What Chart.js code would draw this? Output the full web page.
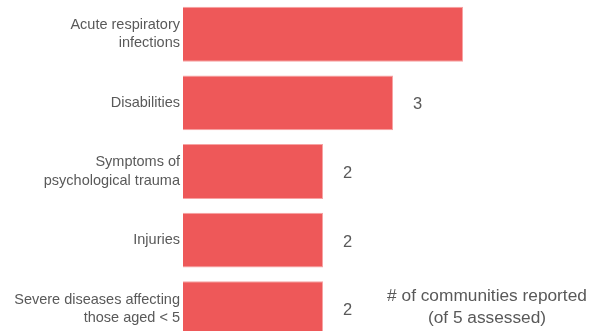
<!DOCTYPE html>
<html>
<head>
<meta charset="utf-8">
<script src="https://cdn.jsdelivr.net/npm/chart.js@4.4.1/dist/chart.umd.min.js"></script>
<style>
  html, body { margin: 0; padding: 0; background: #fff; overflow: hidden; }
  #wrap { position: relative; width: 590px; height: 343px; }
</style>
</head>
<body>
<div id="wrap"><canvas id="chart"></canvas></div>
<script>
// categories and values
const categories = [
  ['Acute respiratory', 'infections'],
  'Disabilities',
  ['Symptoms of', 'psychological trauma'],
  'Injuries',
  ['Severe diseases affecting', 'those aged < 5']
];
const communities = [4, 3, 2, 2, 2];
// the top bar has no number printed next to it
const shownLabels = [null, '3', '2', '2', '2'];
const noteLines = ['# of communities reported', '(of 5 assessed)'];

const textColor = '#595959';

// writes the count to the right of each bar
const valueLabels = {
  id: 'valueLabels',
  afterDatasetsDraw(chart) {
    const ctx = chart.ctx;
    const meta = chart.getDatasetMeta(0);
    ctx.save();
    ctx.font = '16.5px "Liberation Sans", Arial, sans-serif';
    ctx.fillStyle = textColor;
    ctx.textAlign = 'left';
    ctx.textBaseline = 'middle';
    meta.data.forEach((bar, i) => {
      if (shownLabels[i] == null) return;
      ctx.fillText(shownLabels[i], bar.x + 20, bar.y + 2);
    });
    ctx.restore();
  }
};

// the note in the bottom right corner
const note = {
  id: 'note',
  afterDraw(chart) {
    const ctx = chart.ctx;
    ctx.save();
    ctx.font = '17.3px "Liberation Sans", Arial, sans-serif';
    ctx.fillStyle = textColor;
    ctx.textAlign = 'center';
    ctx.textBaseline = 'middle';
    noteLines.forEach((line, i) => {
      ctx.fillText(line, 487, 296 + i * 22);
    });
    ctx.restore();
  }
};

new Chart(document.getElementById('chart'), {
  type: 'bar',
  data: {
    labels: categories,
    datasets: [{
      data: communities,
      backgroundColor: '#EE5859',
      borderColor: '#F7A3A3',
      borderWidth: 1,
      barPercentage: 0.8,
      categoryPercentage: 1.0
    }]
  },
  options: {
    indexAxis: 'y',
    responsive: true,
    maintainAspectRatio: false,
    animation: false,
    layout: { padding: { left: 0, right: 57, top: 0, bottom: 0 } },
    plugins: {
      legend: { display: false },
      tooltip: { enabled: false }
    },
    scales: {
      x: {
        display: false,
        min: 0,
        max: 5
      },
      y: {
        afterFit(scale) {
          scale.width = 183;
          scale.paddingTop = 0;
          scale.paddingBottom = 0;
        },
        grid: { display: false, drawTicks: false },
        border: { display: false },
        ticks: {
          padding: 3,
          color: textColor,
          font: { family: '"Liberation Sans", Arial, sans-serif', size: 14.5, lineHeight: 1.25 }
        }
      }
    }
  },
  plugins: [valueLabels, note]
});
</script>
</body>
</html>
